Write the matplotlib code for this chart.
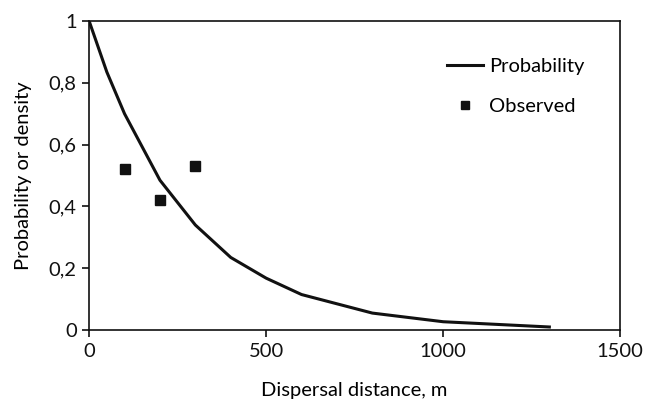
import matplotlib.pyplot as plt
from matplotlib.ticker import FuncFormatter
from matplotlib.lines import Line2D

# curve
distance = [0, 50, 100, 200, 300, 400, 500, 600, 800, 1000, 1300]
probability = [1.0, 0.835, 0.70, 0.485, 0.34, 0.235, 0.168, 0.115, 0.055, 0.027, 0.01]

# observed points
obs_distance = [100, 200, 300]
obs_value = [0.52, 0.42, 0.53]

x_ticks = [0, 500, 1000, 1500]
y_ticks = [0, 0.2, 0.4, 0.6, 0.8, 1.0]

plt.rcParams['font.family'] = ['Lato', 'DejaVu Sans']

fig = plt.figure(figsize=(6.46, 4.05), dpi=100)
ax = fig.add_axes([0.138, 0.185, 0.822, 0.763])

ax.plot(distance, probability, color="#111111", linewidth=2.2)
ax.plot(obs_distance, obs_value, linestyle="none", marker="s",
        markersize=7, color="#111111")

ax.set_xlim(0, 1500)
ax.set_ylim(0, 1)
ax.set_xticks(x_ticks)
ax.set_yticks(y_ticks)

def comma(v, pos):
    s = ("%g" % round(v, 2))
    return s.replace(".", ",")

ax.yaxis.set_major_formatter(FuncFormatter(comma))
ax.tick_params(direction="out", length=5, width=1.2, labelsize=14.5,
               colors="#111111", pad=4)
for sp in ax.spines.values():
    sp.set_linewidth(1.2)
    sp.set_color("#111111")

ax.set_xlabel("Dispersal distance, m", fontsize=14.5, labelpad=16)
ax.set_ylabel("Probability or density", fontsize=14.5, labelpad=12)

handles = [Line2D([], [], color="#111111", linewidth=2.2),
           Line2D([], [], linestyle="none", marker="s", markersize=5.5,
                  color="#111111")]
ax.legend(handles, ["Probability", "Observed"], loc="upper left",
          bbox_to_anchor=(0.64, 0.94), frameon=False, fontsize=14.5,
          handlelength=1.8, handletextpad=0.3, labelspacing=1.15)

fig.savefig("out.png", dpi=100)
